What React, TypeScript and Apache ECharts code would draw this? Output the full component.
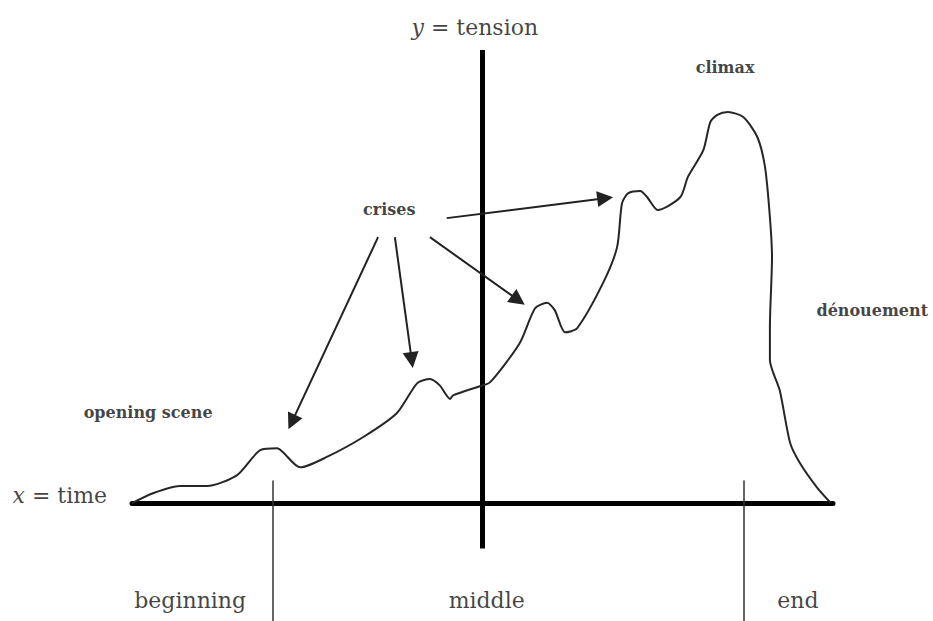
import React, { useEffect, useRef } from "react";
import * as echarts from "echarts";

// Tension curve (x = time 0..100, y = tension)
const curveX = [0, 3.0, 6.8, 10.7, 15.0, 18.3, 20.7, 21.5, 24.0, 27.8, 33.0, 37.8, 40.7, 42.5, 43.9, 45.4, 45.8, 49.6, 51.1, 55.3, 57.5, 59.2, 60.3, 61.8, 63.5, 67.2, 69.2, 69.9, 70.8, 72.5, 73.5, 75.0, 78.2, 79.3, 81.5, 82.5, 83.5, 85.0, 87.2, 89.2, 90.3, 91.0, 91.3, 91.0, 91.0, 92.4, 93.9, 95.3, 97.7, 99.6];
const curveY = [0, 2.2, 3.8, 3.8, 6.2, 11.7, 12.1, 11.3, 7.9, 10.2, 14.6, 19.9, 26.5, 27.4, 26.0, 23.0, 23.8, 25.8, 26.7, 35.3, 43.0, 44.2, 42.6, 37.7, 38.6, 48.6, 56.5, 66.2, 68.4, 68.9, 67.5, 64.7, 67.5, 72.0, 77.9, 84.1, 85.7, 86.3, 85.2, 80.8, 74.2, 63.1, 54.3, 38.9, 31.6, 24.9, 13.2, 8.8, 3.5, 0.2];

// Tension axis position on the time scale and its extent
const tensionAxisAt = 50;
const tensionAxisRange = [-10, 100];

// Phase dividers and labels
const phaseDividers = [20.1, 87.2];
const phaseDividerRange = [-26, 5];
const phaseNames = ["beginning", "middle", "end"];
const phaseCenters = [8.3, 50.6, 95.0];
const phaseLabelY = -21.4;

// Arrows from "crises" to the crisis peaks
const arrowFrom = [[35.1, 58.7], [37.5, 58.7], [42.5, 58.7], [44.9, 62.9]];
const arrowTo = [[22.8, 17.9], [39.9, 31.6], [55.1, 44.8], [67.5, 67.3]];

// Annotation texts
const noteTexts = ["crises", "climax", "dénouement", "opening scene"];
const noteX = [36.7, 84.6, 105.6, 2.3];
const noteY = [64.7, 96.2, 42.6, 20.1];

// Axis titles
const axisTitleTexts = ["{i|y} = tension", "{i|x} = time"];
const axisTitleX = [48.9, -10.3];
const axisTitleY = [104.9, 1.8];

const FONT = "'DejaVu Serif', serif";
const INK = "#111111";

export default function App() {
  const ref = useRef<HTMLDivElement>(null);

  useEffect(() => {
    if (!ref.current) return;
    const chart = echarts.init(ref.current, null, { renderer: "svg" });

    const curve = curveX.map((x, i) => [x, curveY[i]]);

    const textLabel = (size: number, weight: string) => ({
      show: true,
      position: "inside",
      formatter: (p: any) => p.name,
      fontFamily: FONT,
      fontSize: size,
      fontWeight: weight,
      color: INK,
      textBorderWidth: 0,
      textBorderColor: "transparent",
    });

    const option: any = {
      animation: false,
      backgroundColor: "#ffffff",
      grid: { left: 132, right: 100, top: 50, bottom: 0 },
      xAxis: {
        type: "value",
        min: 0,
        max: 100,
        axisLine: { show: true, onZero: true, lineStyle: { color: "#000", width: 5 } },
        axisTick: { show: false },
        axisLabel: { show: false },
        splitLine: { show: false },
      },
      yAxis: {
        type: "value",
        min: -26,
        max: 100,
        show: false,
        splitLine: { show: false },
      },
      series: [
        {
          type: "line",
          data: [
            [tensionAxisAt, tensionAxisRange[0]],
            [tensionAxisAt, tensionAxisRange[1]],
          ],
          symbol: "none",
          lineStyle: { color: "#000", width: 5 },
          clip: false,
          z: 3,
        },
        {
          type: "lines",
          coordinateSystem: "cartesian2d",
          data: phaseDividers.map((x) => ({
            coords: [
              [x, phaseDividerRange[1]],
              [x, phaseDividerRange[0]],
            ],
          })),
          symbol: "none",
          lineStyle: { color: "#333", width: 1.5, opacity: 1 },
          clip: false,
          z: 2,
        },
        {
          type: "line",
          data: curve,
          symbol: "none",
          smooth: 0.25,
          lineStyle: { color: "#262626", width: 2 },
          clip: false,
          z: 4,
        },
        {
          type: "lines",
          coordinateSystem: "cartesian2d",
          data: arrowFrom.map((f, i) => ({ coords: [f, arrowTo[i]] })),
          symbol: ["none", "triangle"],
          symbolSize: [13, 16],
          lineStyle: { color: "#222", width: 2, opacity: 1 },
          itemStyle: { color: "#111" },
          clip: false,
          z: 5,
        },
        {
          type: "scatter",
          data: phaseCenters.map((x, i) => ({ value: [x, phaseLabelY], name: phaseNames[i] })),
          symbolSize: 1,
          itemStyle: { color: "rgba(0,0,0,0)" },
          clip: false,
          label: textLabel(22, "normal"),
          z: 6,
        },
        {
          type: "scatter",
          data: noteTexts.map((t, i) => ({ value: [noteX[i], noteY[i]], name: t })),
          symbolSize: 1,
          itemStyle: { color: "rgba(0,0,0,0)" },
          clip: false,
          label: textLabel(16, "bold"),
          z: 6,
        },
        {
          type: "scatter",
          data: axisTitleTexts.map((t, i) => ({ value: [axisTitleX[i], axisTitleY[i]], name: t })),
          symbolSize: 1,
          itemStyle: { color: "rgba(0,0,0,0)" },
          clip: false,
          label: {
            ...textLabel(22, "normal"),
            rich: {
              i: { fontFamily: FONT, fontStyle: "italic", fontSize: 22, color: INK, textBorderWidth: 0 },
            },
          },
          z: 6,
        },
      ],
    };

    chart.setOption(option);
    return () => chart.dispose();
  }, []);

  return (
    <div
      ref={ref}
      style={{ position: "fixed", left: 0, top: 0, width: 933, height: 621, background: "#fff" }}
    />
  );
}
